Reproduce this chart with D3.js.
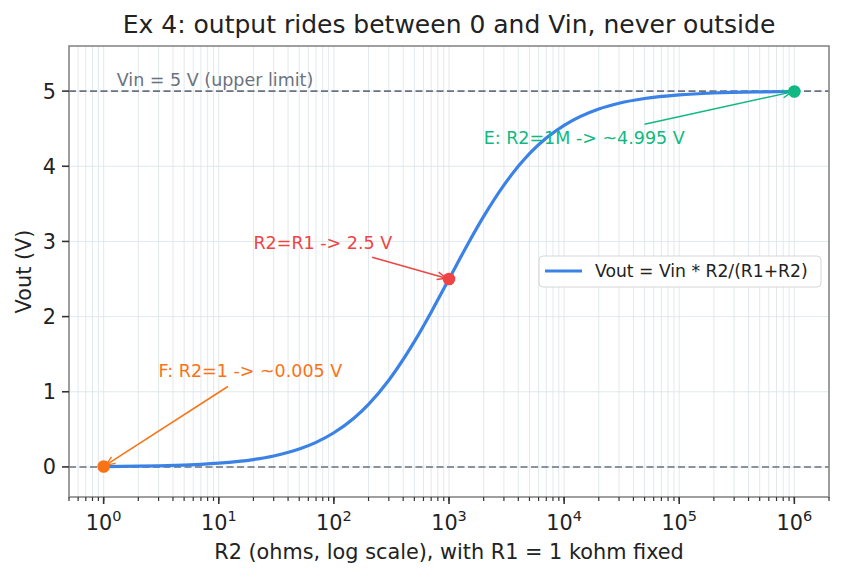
<!DOCTYPE html>
<html>
<head>
<meta charset="utf-8">
<script src="https://cdn.jsdelivr.net/npm/d3@7"></script>
<style>
  body { margin: 0; background: #fff; }
  svg { font-family: "DejaVu Sans", sans-serif; }
</style>
</head>
<body>
<svg></svg>
<script>
var width = 842,
    height = 579;
var margin = {top: 46, right: 13, bottom: 82, left: 69};

// curve (R2 in ohms, Vout in volts)
var r2Values = [1, 2, 3, 5, 7, 10, 20, 30, 50, 70, 100, 150, 200, 300, 500, 700,
    1000, 1500, 2000, 3000, 5000, 7000, 1e4, 2e4, 3e4, 5e4, 1e5, 2e5, 5e5, 1e6];
var voutValues = [0.005, 0.010, 0.015, 0.025, 0.035, 0.050, 0.098, 0.146, 0.238, 0.327,
    0.455, 0.652, 0.833, 1.154, 1.667, 2.059, 2.5, 3.0, 3.333, 3.75, 4.167, 4.375,
    4.545, 4.762, 4.839, 4.902, 4.950, 4.975, 4.990, 4.995];

var yTicks = [0, 1, 2, 3, 4, 5];
var xTickExps = [0, 1, 2, 3, 4, 5, 6];
var vin = 5;

// marked points and their notes
var marks = [
    {r2: 1, v: 0.005, color: "#f97316", text: "F: R2=1 -> ~0.005 V", tx: 3, ty: 1.19, ax: 12, ay: 1.07},
    {r2: 1000, v: 2.5, color: "#ef4444", text: "R2=R1 -> 2.5 V", tx: 20, ty: 2.9, ax: 215, ay: 2.79},
    {r2: 1e6, v: 4.995, color: "#10b981", text: "E: R2=1M -> ~4.995 V", tx: 2000, ty: 4.3, ax: 50000, ay: 4.56}
];

var svg = d3.select("svg")
    .attr("width", width)
    .attr("height", height);

var x = d3.scaleLog()
    .domain([0.5, 2e6])
    .range([margin.left, width - margin.right]);
var y = d3.scaleLinear()
    .domain([-0.4, 5.6])
    .range([height - margin.bottom, margin.top]);

var x0 = margin.left, x1 = width - margin.right,
    y0 = height - margin.bottom, y1 = margin.top;

// all the log ticks, major and minor
var minorTicks = [];
for (var e = -1; e <= 6; e++) {
    for (var k = 1; k <= 9; k++) {
        var t = k * Math.pow(10, e);
        if (t >= 0.5 && t <= 2e6) minorTicks.push(t);
    }
}

var grid = svg.append("g");
grid.selectAll(".vg")
    .data(minorTicks)
    .enter().append("line")
    .attr("x1", d => x(d)).attr("x2", d => x(d))
    .attr("y1", y1).attr("y2", y0)
    .attr("stroke", "#dfe6ea")
    .attr("stroke-width", 0.9);
grid.selectAll(".hg")
    .data(yTicks)
    .enter().append("line")
    .attr("x1", x0).attr("x2", x1)
    .attr("y1", d => y(d)).attr("y2", d => y(d))
    .attr("stroke", "#dfe6ea")
    .attr("stroke-width", 0.9);

// limit lines
svg.selectAll(".limit")
    .data([0, vin])
    .enter().append("line")
    .attr("x1", x0).attr("x2", x1)
    .attr("y1", d => y(d)).attr("y2", d => y(d))
    .attr("stroke", "#6b7280")
    .attr("stroke-width", 1.6)
    .attr("stroke-dasharray", "7,3.5");

svg.append("text")
    .attr("x", x(1.3))
    .attr("y", y(5.07))
    .attr("fill", "#6b7280")
    .attr("font-size", 17.5)
    .text("Vin = 5 V (upper limit)");

// curve
var pts = r2Values.map((r, i) => [r, voutValues[i]]);
var line = d3.line()
    .x(d => x(d[0]))
    .y(d => y(d[1]))
    .curve(d3.curveMonotoneX);
svg.append("path")
    .datum(pts)
    .attr("fill", "none")
    .attr("stroke", "#3b82e6")
    .attr("stroke-width", 3.2)
    .attr("d", line);

// arrow heads
var defs = svg.append("defs");
marks.forEach(function (m, i) {
    defs.append("marker")
        .attr("id", "arr" + i)
        .attr("viewBox", "0 0 10 10")
        .attr("refX", 9).attr("refY", 5)
        .attr("markerWidth", 11).attr("markerHeight", 11)
        .attr("markerUnits", "userSpaceOnUse")
        .attr("orient", "auto")
        .append("path")
        .attr("d", "M1,1.5 L9,5 L1,8.5")
        .attr("fill", "none")
        .attr("stroke", m.color)
        .attr("stroke-width", 1.3);
});

var notes = svg.selectAll(".note")
    .data(marks)
    .enter().append("g");
notes.append("line")
    .attr("x1", d => x(d.ax)).attr("y1", d => y(d.ay))
    .attr("x2", function (d) {
        var dx = x(d.r2) - x(d.ax), dy = y(d.v) - y(d.ay), l = Math.hypot(dx, dy);
        return x(d.r2) - dx / l * 3;
    })
    .attr("y2", function (d) {
        var dx = x(d.r2) - x(d.ax), dy = y(d.v) - y(d.ay), l = Math.hypot(dx, dy);
        return y(d.v) - dy / l * 3;
    })
    .attr("stroke", d => d.color)
    .attr("stroke-width", 1.5)
    .attr("marker-end", (d, i) => "url(#arr" + i + ")");
notes.append("text")
    .attr("x", d => x(d.tx))
    .attr("y", d => y(d.ty))
    .attr("fill", d => d.color)
    .attr("font-size", 17.5)
    .text(d => d.text);
notes.append("circle")
    .attr("cx", d => x(d.r2))
    .attr("cy", d => y(d.v))
    .attr("r", 6.3)
    .attr("fill", d => d.color);

// frame
svg.append("rect")
    .attr("x", x0).attr("y", y1)
    .attr("width", x1 - x0).attr("height", y0 - y1)
    .attr("fill", "none")
    .attr("stroke", "#888")
    .attr("stroke-width", 1.6);

// x axis
var xAxis = svg.append("g");
xAxis.selectAll(".minor")
    .data(minorTicks)
    .enter().append("line")
    .attr("x1", d => x(d)).attr("x2", d => x(d))
    .attr("y1", y0).attr("y2", y0 + 4)
    .attr("stroke", "#333").attr("stroke-width", 1.2);
var xt = xAxis.selectAll(".major")
    .data(xTickExps)
    .enter().append("g")
    .attr("transform", d => "translate(" + x(Math.pow(10, d)) + "," + y0 + ")");
xt.append("line")
    .attr("y2", 7)
    .attr("stroke", "#333").attr("stroke-width", 1.6);
var xl = xt.append("text")
    .attr("y", 33)
    .attr("text-anchor", "middle")
    .attr("font-size", 20.8)
    .attr("fill", "#222");
xl.append("tspan").text("10");
xl.append("tspan").attr("dy", -9).attr("font-size", 14.5).text(d => d);

// y axis
var yt = svg.append("g").selectAll("g")
    .data(yTicks)
    .enter().append("g")
    .attr("transform", d => "translate(" + x0 + "," + y(d) + ")");
yt.append("line")
    .attr("x2", -7)
    .attr("stroke", "#333")
    .attr("stroke-width", 1.6);
yt.append("text")
    .attr("x", -13)
    .attr("dy", "0.36em")
    .attr("text-anchor", "end")
    .attr("font-size", 20.8)
    .attr("fill", "#222")
    .text(d => d);

// labels
svg.append("text")
    .attr("x", (x0 + x1) / 2)
    .attr("y", 33)
    .attr("text-anchor", "middle")
    .attr("font-size", 25)
    .attr("fill", "#222")
    .text("Ex 4: output rides between 0 and Vin, never outside");
svg.append("text")
    .attr("x", (x0 + x1) / 2)
    .attr("y", 559)
    .attr("text-anchor", "middle")
    .attr("font-size", 20.8)
    .attr("fill", "#222")
    .text("R2 (ohms, log scale), with R1 = 1 kohm fixed");
svg.append("text")
    .attr("transform", "translate(31," + (y0 + y1) / 2 + ") rotate(-90)")
    .attr("text-anchor", "middle")
    .attr("font-size", 20.8)
    .attr("fill", "#222")
    .text("Vout (V)");

// legend
var lg = svg.append("g").attr("transform", "translate(539,256)");
lg.append("rect")
    .attr("width", 282).attr("height", 31)
    .attr("rx", 4)
    .attr("fill", "#fff").attr("fill-opacity", 0.85)
    .attr("stroke", "#d6d6d6");
lg.append("line")
    .attr("x1", 6).attr("x2", 43)
    .attr("y1", 15).attr("y2", 15)
    .attr("stroke", "#3b82e6").attr("stroke-width", 3.2);
lg.append("text")
    .attr("x", 56).attr("y", 21)
    .attr("font-size", 17.2)
    .attr("fill", "#222")
    .text("Vout = Vin * R2/(R1+R2)");
</script>
</body>
</html>
